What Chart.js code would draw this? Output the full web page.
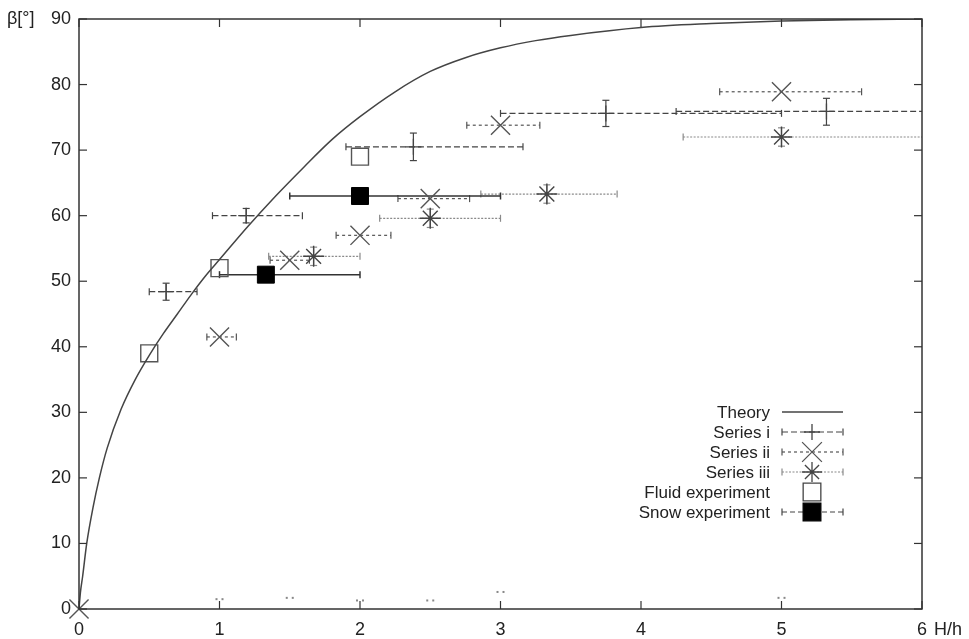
<!DOCTYPE html>
<html>
<head>
<meta charset="utf-8">
<script src="https://cdn.jsdelivr.net/npm/chart.js@4/dist/chart.umd.min.js"></script>
<style>
  html, body { margin: 0; padding: 0; background: #fff; }
  canvas { display: block; }
</style>
</head>
<body>
<canvas id="chart" width="969" height="639"></canvas>
<script>
// Tick labels
const xTicks = [0, 1, 2, 3, 4, 5, 6];
const yTicks = [0, 10, 20, 30, 40, 50, 60, 70, 80, 90];

// Theory curve
const theoryX = [0, 0.01, 0.026, 0.055, 0.1, 0.145, 0.2, 0.3, 0.4, 0.5, 0.6, 0.7, 0.8, 0.9, 1.0,
  1.2, 1.4, 1.6, 1.8, 2.0, 2.25, 2.5, 2.75, 3.0, 3.25, 3.5, 4.0, 4.5, 5.0, 5.5, 6.0];
const theoryY = [0, 2.5, 5, 10, 15.5, 20, 24.5, 30.5, 35, 38.7, 42, 45, 48, 50.8, 53.3,
  58.3, 63, 67.4, 71.6, 75.1, 78.9, 82, 84.1, 85.6, 86.7, 87.5, 88.7, 89.3, 89.7, 89.9, 90];

// Series i
const iX   = [0.62, 1.19, 2.38, 3.75, 5.32];
const iY   = [48.4, 60.0, 70.5, 75.6, 75.9];
const iXLo = [0.50, 0.95, 1.90, 3.00, 4.25];
const iXHi = [0.84, 1.59, 3.16, 5.00, 6.40];
const iYLo = [47.1, 58.9, 68.4, 73.6, 73.8];
const iYHi = [49.7, 61.1, 72.6, 77.6, 77.9];

// Series ii
const iiX   = [0, 1.0, 1.5, 2.0, 2.5, 3.0, 5.0];
const iiY   = [0, 41.5, 53.2, 57.0, 62.6, 73.8, 78.9];
const iiXLo = [null, 0.91, 1.36, 1.83, 2.27, 2.76, 4.56];
const iiXHi = [null, 1.12, 1.64, 2.22, 2.78, 3.28, 5.57];

// Series iii
const iiiX   = [1.67, 2.5, 3.33, 5.0];
const iiiY   = [53.8, 59.6, 63.3, 72.0];
const iiiXLo = [1.35, 2.14, 2.86, 4.30];
const iiiXHi = [2.00, 3.00, 3.83, 6.40];
const iiiYLo = [52.4, 58.2, 61.9, 70.6];
const iiiYHi = [55.2, 61.0, 64.7, 73.4];

// Fluid experiment
const fluidX = [0.5, 1.0, 2.0];
const fluidY = [39, 52, 69];

// Snow experiment
const snowX   = [1.33, 2.0];
const snowY   = [51, 63];
const snowXLo = [1.0, 1.5];
const snowXHi = [2.0, 3.0];

// small stray marks near the x axis
const stubX = [1, 1.5, 2, 2.5, 3, 5];
const stubY = [1.5, 1.7, 1.3, 1.3, 2.6, 1.7];

const legendLabels = ['Theory', 'Series i', 'Series ii', 'Series iii', 'Fluid experiment', 'Snow experiment'];

const TICK_FONT = "18px 'Liberation Sans', Arial, sans-serif";
const LEGEND_FONT = "17px 'Liberation Sans', Arial, sans-serif";

function pts(xs, ys) {
  return xs.map((x, k) => ({ x: x, y: ys[k] }));
}

const STYLES = {
  i:    { color: '#444', width: 1.2, dash: [6, 3] },
  ii:   { color: '#555', width: 1.2, dash: [3, 3] },
  iii:  { color: '#8a8a8a', width: 1.2, dash: [2, 1.5] },
  snow: { color: '#333', width: 1.5, dash: [] },
};

function line(ctx, x1, y1, x2, y2) {
  ctx.beginPath();
  ctx.moveTo(x1, y1);
  ctx.lineTo(x2, y2);
  ctx.stroke();
}

const errorBars = {
  id: 'errorBars',
  beforeDatasetsDraw(chart) {
    const { ctx, chartArea: a, scales: { x, y } } = chart;
    ctx.save();
    ctx.beginPath();
    ctx.rect(a.left, a.top, a.right - a.left, a.bottom - a.top);
    ctx.clip();
    chart.data.datasets.forEach((ds) => {
      if (ds.dots) {
        // two little dots per mark
        ctx.fillStyle = '#888';
        ds.data.forEach((p) => {
          const px = x.getPixelForValue(p.x);
          const py = y.getPixelForValue(p.y);
          ctx.fillRect(px - 4, py - 1, 2, 2);
          ctx.fillRect(px + 2, py - 1, 2, 2);
        });
        return;
      }
      const st = ds.errStyle;
      if (!st) return;
      ctx.strokeStyle = st.color;
      ctx.lineWidth = st.width;
      ds.data.forEach((p, k) => {
        const px = x.getPixelForValue(p.x);
        const py = y.getPixelForValue(p.y);
        if (ds.xLo && ds.xLo[k] != null) {
          const l = x.getPixelForValue(ds.xLo[k]);
          const r = x.getPixelForValue(ds.xHi[k]);
          ctx.setLineDash(st.dash);
          line(ctx, l, py, r, py);
          ctx.setLineDash([]);
          line(ctx, l, py - 3.5, l, py + 3.5);
          line(ctx, r, py - 3.5, r, py + 3.5);
        }
        if (ds.yLo && ds.yLo[k] != null) {
          const t = y.getPixelForValue(ds.yHi[k]);
          const b = y.getPixelForValue(ds.yLo[k]);
          ctx.setLineDash([]);
          line(ctx, px, t, px, b);
          line(ctx, px - 3.5, t, px + 3.5, t);
          line(ctx, px - 3.5, b, px + 3.5, b);
        }
      });
    });
    ctx.restore();
  },
};

const frameAndLegend = {
  id: 'frameAndLegend',
  afterDraw(chart) {
    const { ctx, chartArea: a, scales: { x, y } } = chart;
    ctx.save();
    // frame
    ctx.strokeStyle = '#333';
    ctx.lineWidth = 1.5;
    ctx.setLineDash([]);
    ctx.strokeRect(a.left, a.top, a.right - a.left, a.bottom - a.top);
    // inward ticks, mirrored
    ctx.lineWidth = 1.2;
    xTicks.forEach((v) => {
      const px = x.getPixelForValue(v);
      line(ctx, px, a.bottom, px, a.bottom - 8);
      line(ctx, px, a.top, px, a.top + 8);
    });
    yTicks.forEach((v) => {
      const py = y.getPixelForValue(v);
      line(ctx, a.left, py, a.left + 8, py);
      line(ctx, a.right, py, a.right - 8, py);
    });
    // tick labels
    ctx.fillStyle = '#222';
    ctx.font = TICK_FONT;
    ctx.textBaseline = 'middle';
    ctx.textAlign = 'right';
    yTicks.forEach((v) => ctx.fillText(String(v), a.left - 8, y.getPixelForValue(v)));
    ctx.textAlign = 'center';
    xTicks.forEach((v) => ctx.fillText(String(v), x.getPixelForValue(v), a.bottom + 21));
    // axis titles
    ctx.textAlign = 'left';
    ctx.fillText('H/h', a.right + 12, a.bottom + 21);
    ctx.fillText('β[°]', 7, y.getPixelForValue(90));

    // legend
    const textRight = 770, s0 = 782, s1 = 843, sm = 812;
    const rows = [412, 432, 452, 472, 492, 512];
    const entries = [
      { st: { color: '#444', width: 1.5, dash: [] }, caps: false, point: null },
      { st: STYLES.i, caps: true, point: { pointStyle: 'cross', radius: 8, color: '#444' } },
      { st: STYLES.ii, caps: true, point: { pointStyle: 'crossRot', radius: 14, color: '#555' } },
      { st: STYLES.iii, caps: true, point: { pointStyle: 'star', radius: 10, color: '#444' } },
      { st: null, caps: false, point: { pointStyle: 'rect', radius: 12.5, color: '#444', fill: '#fff' } },
      { st: { color: '#444', width: 1.2, dash: [5, 3] }, caps: true, point: { pointStyle: 'rect', radius: 12.5, color: '#000', fill: '#000' } },
    ];
    entries.forEach((e, k) => {
      const ry = rows[k];
      ctx.fillStyle = '#222';
      ctx.font = LEGEND_FONT;
      ctx.textAlign = 'right';
      ctx.textBaseline = 'middle';
      ctx.fillText(legendLabels[k], textRight, ry + 1);
      if (e.st) {
        ctx.strokeStyle = e.st.color;
        ctx.lineWidth = e.st.width;
        ctx.setLineDash(e.st.dash);
        line(ctx, s0, ry, s1, ry);
        ctx.setLineDash([]);
        if (e.caps) {
          line(ctx, s0, ry - 3.5, s0, ry + 3.5);
          line(ctx, s1, ry - 3.5, s1, ry + 3.5);
        }
      }
      if (e.point) {
        ctx.strokeStyle = e.point.color;
        ctx.fillStyle = e.point.fill || 'rgba(0,0,0,0)';
        ctx.lineWidth = 1.3;
        ctx.setLineDash([]);
        Chart.helpers.drawPoint(ctx, {
          pointStyle: e.point.pointStyle, radius: e.point.radius, rotation: 0, borderWidth: 1.3,
        }, sm, ry);
      }
    });
    ctx.restore();
  },
};

new Chart(document.getElementById('chart'), {
  type: 'scatter',
  data: {
    datasets: [
      {
        label: 'Theory',
        type: 'line',
        data: pts(theoryX, theoryY),
        borderColor: '#444',
        borderWidth: 1.5,
        pointRadius: 0,
        fill: false,
        cubicInterpolationMode: 'monotone',
      },
      {
        label: 'Series i',
        data: pts(iX, iY),
        xLo: iXLo, xHi: iXHi, yLo: iYLo, yHi: iYHi,
        errStyle: STYLES.i,
        pointStyle: 'cross',
        pointRadius: 8,
        borderColor: '#444',
        borderWidth: 1.3,
      },
      {
        label: 'Series ii',
        data: pts(iiX, iiY),
        xLo: iiXLo, xHi: iiXHi,
        errStyle: STYLES.ii,
        pointStyle: 'crossRot',
        pointRadius: 13.5,
        borderColor: '#555',
        borderWidth: 1.4,
        clip: false,
      },
      {
        label: 'Series iii',
        data: pts(iiiX, iiiY),
        xLo: iiiXLo, xHi: iiiXHi, yLo: iiiYLo, yHi: iiiYHi,
        errStyle: STYLES.iii,
        pointStyle: 'star',
        pointRadius: 10.5,
        borderColor: '#444',
        borderWidth: 1.4,
      },
      {
        label: 'Fluid experiment',
        data: pts(fluidX, fluidY),
        pointStyle: 'rect',
        pointRadius: 12,
        borderColor: '#555',
        backgroundColor: 'rgba(255,255,255,0)',
        borderWidth: 1.4,
      },
      {
        label: 'Snow experiment',
        data: pts(snowX, snowY),
        xLo: snowXLo, xHi: snowXHi,
        errStyle: STYLES.snow,
        pointStyle: 'rect',
        pointRadius: 12,
        borderColor: '#000',
        backgroundColor: '#000',
        borderWidth: 1,
      },
      {
        label: 'stubs',
        data: pts(stubX, stubY),
        dots: true,
        pointRadius: 0,
      },
    ],
  },
  options: {
    responsive: false,
    animation: false,
    layout: { padding: { left: 79, right: 47, top: 19, bottom: 30 } },
    plugins: { legend: { display: false }, tooltip: { enabled: false } },
    scales: {
      x: { type: 'linear', min: 0, max: 6, display: false },
      y: { type: 'linear', min: 0, max: 90, display: false },
    },
  },
  plugins: [errorBars, frameAndLegend],
});
</script>
</body>
</html>
